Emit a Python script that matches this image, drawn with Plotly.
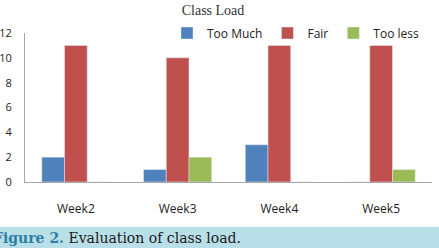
import plotly.graph_objects as go

weeks = ["Week2", "Week3", "Week4", "Week5"]
too_much = [2, 1, 3, 0]
fair = [11, 10, 11, 11]
too_less = [0, 2, 0, 1]
y_ticks = [0, 2, 4, 6, 8, 10, 12]

W, H = 439, 252
L, R, T, B = 25, 7, 33, 70
pw = W - L - R
ph = H - T - B

def px_x(x):
    return (x - L) / pw

def px_y(y):
    return (H - B - y) / ph

sans = "Open Sans"
serif = "DejaVu Serif"

fig = go.Figure()
fig.add_trace(go.Bar(name="Too Much", x=weeks, y=too_much, marker_color="#4F81BD"))
fig.add_trace(go.Bar(name="Fair", x=weeks, y=fair, marker_color="#C0504D"))
fig.add_trace(go.Bar(name="Too less", x=weeks, y=too_less, marker_color="#9BBB59"))

fig.update_layout(
    width=W, height=H,
    margin=dict(l=L, r=R, t=T, b=B),
    paper_bgcolor="white", plot_bgcolor="white",
    barmode="group", bargap=0.33, bargroupgap=0,
    showlegend=True,
    legend=dict(orientation="h", x=px_x(424), xanchor="right", y=1.0, yanchor="middle",
                font=dict(family=sans, size=12, color="#222"), bgcolor="rgba(0,0,0,0)",
                itemwidth=30, traceorder="normal"),
    title=dict(text="Class Load", x=213 / W, xanchor="center", y=1 - 10 / H, yanchor="middle",
               font=dict(family="Liberation Serif", size=14, color="#333")),
    xaxis=dict(showline=True, linecolor="#a6a6a6", linewidth=1, ticks="",
               tickfont=dict(family=sans, size=12, color="#222"), ticklabelstandoff=16,
               showgrid=False, zeroline=False),
    yaxis=dict(range=[0, 12], tickvals=y_ticks, showline=True, linecolor="#a6a6a6", linewidth=1,
               ticks="", tickfont=dict(family=sans, size=11, color="#222"), ticklabelstandoff=10,
               showgrid=False, zeroline=False, automargin=False),
)

fig.add_shape(type="rect", xref="paper", yref="paper",
              x0=px_x(0), x1=px_x(W), y0=px_y(248), y1=px_y(227),
              fillcolor="#b9dfe9", line=dict(width=0), layer="below")

fig.add_annotation(xref="paper", yref="paper", x=px_x(-9), y=px_y(237.5),
                   xanchor="left", yanchor="middle", showarrow=False,
                   text="<b><span style='color:#2c7fa3'>Figure 2.</span></b> Evaluation of class load.",
                   font=dict(family=serif, size=14, color="#1a1a1a"))

fig.write_html("out.html")
